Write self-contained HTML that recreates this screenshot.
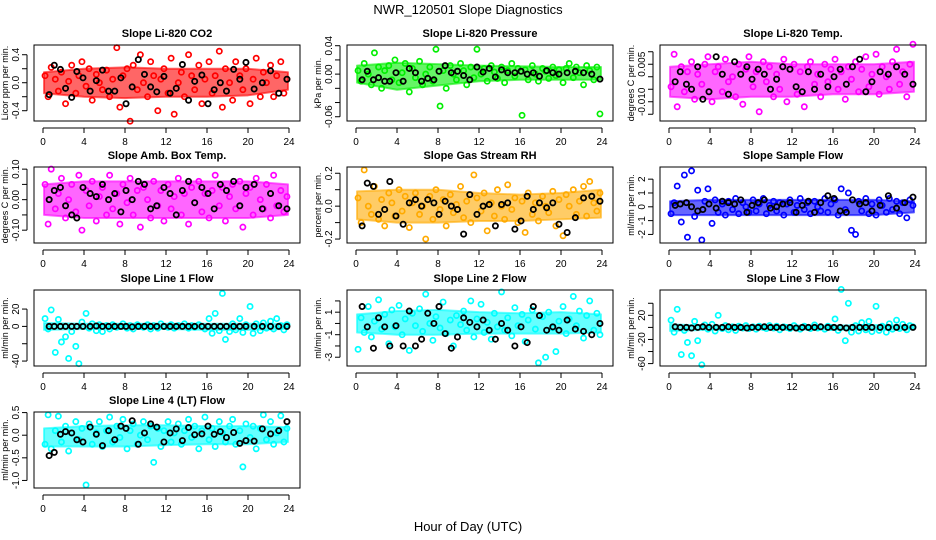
<!DOCTYPE html>
<html><head><meta charset="utf-8">
<style>
html,body{margin:0;padding:0;background:#fff;}
svg{display:block;font-family:"Liberation Sans",sans-serif;}
</style></head>
<body>
<svg id="chart" width="936" height="540" viewBox="0 0 936 540" xmlns="http://www.w3.org/2000/svg">
<text x="468" y="14" text-anchor="middle" font-size="13">NWR_120501  Slope Diagnostics</text>
<text x="468" y="531" text-anchor="middle" font-size="13">Hour of Day (UTC)</text>
</svg>
<script>
const hoursC=[0.2,0.5,0.8,1.2,1.5,1.8,2.2,2.5,2.8,3.2,3.5,3.8,4.2,4.5,4.8,5.2,5.5,5.8,6.2,6.5,6.8,7.2,7.5,7.8,8.2,8.5,8.8,9.2,9.5,9.8,10.2,10.5,10.8,11.2,11.5,11.8,12.2,12.5,12.8,13.2,13.5,13.8,14.2,14.5,14.8,15.2,15.5,15.8,16.2,16.5,16.8,17.2,17.5,17.8,18.2,18.5,18.8,19.2,19.5,19.8,20.2,20.5,20.8,21.2,21.5,21.8,22.2,22.5,22.8,23.2,23.5,23.8];
const hoursB=[0.6,1.1,1.7,2.2,2.8,3.3,3.9,4.6,5.2,5.8,6.4,7.0,7.6,8.1,8.7,9.3,9.9,10.5,11.1,11.8,12.4,13.0,13.6,14.2,14.8,15.5,16.1,16.7,17.3,17.9,18.6,19.2,19.8,20.6,21.4,22.2,23.0,23.8];
const bandHours=[0.1,4,8,12,16,20,23.9];
const xTicks=[0,4,8,12,16,20,24];

const co2C=[0.10,-0.20,0.22,0.05,-0.12,0.15,-0.30,0.02,0.25,-0.15,0.10,0.30,-0.05,0.20,-0.25,0.12,0.00,-0.10,0.18,-0.20,0.05,0.50,-0.35,0.10,0.20,-0.55,0.25,-0.10,0.40,0.00,-0.20,0.30,0.10,-0.40,0.05,0.20,-0.15,0.35,-0.45,0.00,0.15,-0.20,0.40,0.10,-0.10,0.25,-0.30,0.05,0.30,-0.15,0.10,0.45,-0.35,0.20,0.00,-0.25,0.30,0.10,-0.10,0.20,-0.30,0.05,0.35,-0.20,0.15,0.00,0.25,-0.20,0.10,0.30,-0.15,0.05];
const co2B=[-0.17,0.25,0.19,-0.08,-0.21,0.16,0.07,-0.12,0.03,0.18,-0.12,-0.12,0.07,-0.3,-0.06,0.33,0.12,-0.06,-0.13,0.09,-0.15,-0.08,0.26,-0.25,0.02,0.11,-0.3,-0.1,0,-0.12,0.19,0.05,0.29,-0.09,0.0,0.17,-0.15,0.05];
const co2Hi=[0.15,0.2,0.22,0.2,0.2,0.2,0.15];
const co2Lo=[-0.15,-0.2,-0.22,-0.2,-0.2,-0.18,-0.1];
const presC=[0.005,-0.010,0.015,0.000,-0.015,0.030,0.010,-0.020,0.005,0.012,-0.008,0.020,-0.012,0.002,0.015,-0.025,0.008,-0.005,0.018,-0.015,0.000,0.010,-0.010,0.035,-0.045,0.005,-0.020,0.012,0.000,-0.008,0.015,0.005,-0.015,0.010,-0.005,0.035,0.000,0.008,-0.010,0.012,0.003,-0.006,0.010,-0.012,0.005,0.015,-0.003,0.008,-0.058,0.006,-0.008,0.012,0.000,-0.010,0.008,0.004,-0.006,0.010,-0.002,0.006,-0.012,0.008,0.015,-0.005,0.010,0.002,-0.015,0.012,0.005,-0.008,0.010,-0.056];
const presB=[-0.008,0.004,-0.008,-0.005,-0.01,-0.01,0.002,-0.01,0.008,0.002,-0.01,-0.006,-0.008,0.004,0.012,0.002,0.004,-0.002,-0.008,0.01,0.003,0.008,-0.004,0.006,0.002,0.002,0.004,0.0,0.002,-0.003,0.005,0.002,0.0,0.002,0.004,0.002,0.0,-0.007];
const presHi=[0.012,0.016,0.014,0.012,0.011,0.01,0.01];
const presLo=[-0.012,-0.022,-0.016,-0.01,-0.008,-0.008,-0.008];
const tempC=[-0.004,0.009,-0.012,0.004,-0.006,0.002,0.006,-0.009,0.001,-0.003,0.005,0.008,-0.010,0.002,0.004,-0.006,0.007,-0.002,0.000,-0.008,0.005,-0.011,0.003,0.008,-0.004,0.002,-0.014,0.006,-0.002,0.004,-0.008,0.001,-0.005,0.007,-0.010,0.003,0.005,-0.007,0.002,-0.012,0.004,0.006,-0.003,0.001,-0.008,0.005,-0.002,0.003,0.007,-0.005,0.002,-0.009,0.004,-0.001,0.006,-0.006,0.003,0.008,-0.004,0.001,0.009,-0.007,0.004,0.000,-0.005,0.006,0.011,-0.003,0.002,-0.008,0.005,0.013];
const tempB=[-0.002,0.002,-0.003,-0.005,0.004,-0.009,-0.006,0.008,0.001,-0.007,0.006,0.001,0.004,-0.001,0.003,0.001,-0.005,-0.001,0.004,0.003,-0.004,-0.006,0.002,-0.005,0.001,-0.004,0.000,0.003,-0.003,0.004,0.007,-0.006,-0.002,0.002,0.001,0.004,0.001,-0.003];
const tempHi=[0.004,0.005,0.006,0.005,0.005,0.005,0.006];
const tempLo=[-0.008,-0.009,-0.008,-0.008,-0.007,-0.007,-0.006];
const ambC=[0.05,-0.08,0.10,-0.03,0.02,0.07,-0.06,0.00,0.05,-0.04,0.08,-0.10,0.03,-0.02,0.06,-0.07,0.01,0.04,-0.05,0.08,-0.03,0.02,-0.08,0.05,-0.01,0.07,-0.05,0.03,-0.09,0.04,0.00,-0.06,0.06,-0.02,0.03,-0.07,0.05,-0.03,0.01,0.07,-0.05,0.02,-0.08,0.04,-0.01,0.06,-0.04,0.02,-0.06,0.03,0.08,-0.02,0.04,-0.07,0.01,0.05,-0.03,0.06,-0.09,0.02,0.04,-0.05,0.07,0.00,-0.03,0.05,-0.06,0.08,-0.02,0.03,-0.04,0.01];
const ambB=[0.00,0.03,0.04,-0.02,-0.05,-0.06,0.04,0.02,0.01,0.05,0.00,0.02,-0.04,0.03,0.00,0.06,0.05,-0.03,-0.02,0.04,0.02,-0.05,0.03,0.06,-0.01,0.04,0.02,-0.03,0.05,0.03,0.06,-0.02,0.04,0.05,-0.03,0.02,-0.02,-0.03];
const ambHi=[0.05,0.06,0.06,0.06,0.06,0.06,0.05];
const ambLo=[-0.05,-0.06,-0.06,-0.06,-0.06,-0.06,-0.05];
const rhC=[0.05,-0.10,0.22,0.00,-0.05,0.12,-0.08,0.04,-0.12,0.08,0.02,-0.06,0.10,-0.03,0.06,-0.13,0.02,0.08,-0.05,0.00,-0.20,0.06,-0.08,0.10,-0.02,0.04,-0.12,0.07,-0.04,0.01,0.12,-0.07,0.03,-0.10,0.19,0.05,-0.03,0.08,-0.15,0.02,-0.06,0.10,0.00,-0.08,0.13,-0.02,0.05,-0.10,0.03,-0.16,0.08,-0.05,0.02,-0.09,0.06,0.00,-0.04,0.09,-0.12,0.04,-0.18,0.07,0.00,0.10,-0.05,0.03,0.12,-0.06,0.15,0.02,-0.03,0.08];
const rhB=[-0.12,0.14,0.12,-0.05,-0.02,0.15,-0.06,-0.11,0.02,0.04,0.00,0.04,0.02,-0.05,0.03,0.00,-0.02,-0.17,0.07,-0.05,0.00,0.01,-0.12,0.01,0.02,-0.14,-0.09,0.06,-0.02,0.02,-0.01,0.02,-0.11,-0.16,-0.07,0.05,0.06,0.03];
const rhHi=[0.09,0.1,0.1,0.08,0.07,0.08,0.1];
const rhLo=[-0.08,-0.1,-0.1,-0.09,-0.09,-0.08,-0.07];
const sampC=[-0.5,0.3,1.5,-1.1,2.3,-2.2,2.6,-0.7,1.2,-2.4,0.4,1.3,-1.2,0.5,-0.4,0.2,-0.6,0.4,-0.2,0.6,-0.5,0.3,0.0,-0.4,0.5,-0.3,0.2,0.6,-0.5,0.1,0.4,-0.3,0.3,-0.6,0.2,0.5,-0.4,0.1,0.6,-0.2,0.3,-0.5,0.4,0.0,-0.3,0.6,-0.4,0.2,0.5,-0.6,1.3,-0.2,1.0,-1.7,-2.0,0.4,-0.3,0.6,-0.5,0.2,-0.6,0.5,0.1,-0.4,0.6,-0.2,0.4,-0.5,0.3,-0.8,0.5,0.1];
const sampB=[0.1,0.2,0.3,0.0,-0.3,-0.2,0.2,-0.1,0.4,0.3,0.2,0.5,-0.4,0.1,0.3,0.5,-0.1,0.0,0.2,0.3,-0.4,0.1,0.4,-0.4,0.3,0.8,0.6,-0.3,-0.4,0.5,0.2,0.3,-0.3,0.1,0.8,-0.1,0.3,0.7];
const sampHi=[0.4,0.5,0.5,0.5,0.5,0.5,0.4];
const sampLo=[-0.6,-0.6,-0.6,-0.6,-0.6,-0.6,-0.4];
const l1C=[9,-3,19,-30,8,-18,-12,-37,-6,-23,-43,5,15,-2,3,-5,2,-6,1,-3,2,-1,0,3,-2,1,-3,2,0,-1,2,-3,1,-2,3,0,-1,2,-2,1,0,3,-2,1,-1,2,0,-3,9,-8,15,-5,38,-15,-6,3,-4,9,-7,2,23,-8,3,-5,4,-2,6,-3,9,1,-4,2];
const l1B=[0,0,0,0,0,0,0,0,0.5,0,0,0,0,0,-0.5,0,0,0,0,0,0,0,0,0,0,0,0,0,0,0,0,0,0,0,0,0,0,0];
const l1Hi=[4,3,3,3,3,3,3];
const l1Lo=[-4,-3,-3,-3,-4,-4,-3];
const l2C=[-2.3,0.5,-0.8,1.5,-1.2,0.2,2.1,-0.5,0.8,-1.8,1.2,-0.3,1.6,-1.0,0.4,-2.4,0.9,-0.2,1.3,-0.7,2.6,0.0,-1.5,0.6,-0.4,1.9,-0.9,0.3,-2.0,0.7,-0.1,1.1,-0.6,2.0,-1.2,0.4,1.7,-0.8,0.1,-1.4,0.9,-0.3,2.8,-0.6,0.5,-1.1,1.4,-0.2,0.8,-1.6,0.3,1.2,-0.5,-3.5,0.6,-3.0,1.0,-0.4,-2.5,0.2,1.5,-0.9,0.4,2.4,-0.2,1.1,-1.3,0.7,2.0,-0.6,0.9,-1.0];
const l2B=[1.5,-0.3,-2.2,0.5,-0.3,-2.0,-0.2,-2.0,1.1,-2.0,-1.4,0.9,0.0,1.5,-0.9,-2.2,-1.2,0.5,0.1,-0.3,0.3,-0.6,-1.4,0.0,-0.6,-2.0,-0.3,-1.7,1.5,0.7,-0.6,-0.3,-0.6,0.3,-0.5,-0.7,-1.0,0.0];
const l2Hi=[0.8,1.1,1.2,1.0,0.9,1.0,0.8];
const l2Lo=[-0.8,-1.0,-1.0,-0.9,-0.9,-0.9,-0.8];
const l3C=[12,-8,30,-45,-5,-25,-47,10,-22,-62,4,-3,5,-6,20,-2,3,-4,1,-5,2,-1,3,-2,1,-3,2,0,-2,3,-1,2,-4,1,0,-2,3,-1,-3,2,0,-2,4,-1,1,-3,2,0,14,-5,63,-22,40,-8,3,-6,8,-4,10,-7,35,-5,2,-8,6,-3,12,-2,5,-4,3,1];
const l3B=[1,0,0,-1,0,1,0,0,0,1,0,0,-1,0,0,1,0,0,0,0,-1,0,0,0,1,0,0,0,-1,0,0,0,0,0,0,0,0,0];
const l3Hi=[5,3,3,3,3,4,3];
const l3Lo=[-6,-4,-3,-3,-4,-4,-3];
const l4C=[-0.2,0.45,-0.3,0.1,0.42,-0.15,0.2,-0.35,0.05,0.3,-0.1,0.15,-1.1,0.25,-0.2,0.05,0.3,-0.25,0.1,0.4,-0.15,0.2,-0.05,0.35,-0.3,0.1,0.25,-0.2,0.0,0.3,-0.1,0.2,-0.6,0.15,-0.25,0.1,0.3,-0.15,0.05,0.25,-0.2,0.1,0.35,-0.05,0.2,-0.3,0.1,0.4,-0.1,0.15,-0.25,0.3,0.05,-0.15,0.2,0.35,-0.2,0.1,-0.7,0.25,-0.05,0.2,-0.3,0.15,0.45,-0.1,0.3,-0.2,0.05,0.43,-0.15,0.15];
const l4B=[-0.45,-0.38,0.02,0.08,0.05,-0.1,-0.15,0.18,0.02,-0.23,0.1,-0.1,0.2,0.15,0.32,-0.2,0.05,0.25,0.18,-0.15,0.05,0.14,-0.12,0.17,0.01,0.03,0.2,0.02,0.08,-0.05,0.06,-0.18,-0.12,-0.13,0.14,0.03,0.1,0.3];
const l4Hi=[0.15,0.2,0.22,0.22,0.2,0.2,0.18];
const l4Lo=[-0.25,-0.25,-0.25,-0.22,-0.2,-0.2,-0.15];

const panels=[
 {name:'co2',title:'Slope Li-820 CO2',ylab:'Licor ppm per min.',col:0,row:0,color:'#ff0000',c:co2C,b:co2B,hi:co2Hi,lo:co2Lo,ylim:[-0.547,0.539],ticks:[-0.4,-0.2,0,0.2,0.4],labels:{'-0.4':'-0.4','0':'0.0','0.4':'0.4'}},
 {name:'pressure',title:'Slope Li-820 Pressure',ylab:'kPa per min.',col:1,row:0,color:'#00ee00',c:presC,b:presB,hi:presHi,lo:presLo,ylim:[-0.066,0.041],ticks:[-0.06,-0.04,-0.02,0,0.02,0.04],labels:{'-0.06':'-0.06','0':'0.00','0.04':'0.04'}},
 {name:'li820-temp',title:'Slope Li-820 Temp.',ylab:'degrees C per min.',col:2,row:0,color:'#ff00ff',c:tempC,b:tempB,hi:tempHi,lo:tempLo,ylim:[-0.0177,0.0127],ticks:[-0.015,-0.01,-0.005,0,0.005,0.01],labels:{'-0.01':'-0.010','0.005':'0.005'}},
 {name:'amb-box-temp',title:'Slope Amb. Box Temp.',ylab:'degrees C per min.',col:0,row:1,color:'#ff00ff',c:ambC,b:ambB,hi:ambHi,lo:ambLo,ylim:[-0.142,0.107],ticks:[-0.1,-0.05,0,0.05,0.1],labels:{'-0.1':'-0.10','0':'0.00','0.1':'0.10'}},
 {name:'gas-stream-rh',title:'Slope Gas Stream RH',ylab:'percent per min.',col:1,row:1,color:'#ffaa00',c:rhC,b:rhB,hi:rhHi,lo:rhLo,ylim:[-0.224,0.238],ticks:[-0.2,-0.1,0,0.1,0.2],labels:{'-0.2':'-0.2','0':'0.0','0.2':'0.2'}},
 {name:'sample-flow',title:'Slope Sample Flow',ylab:'ml/min per min.',col:2,row:1,color:'#0000ff',c:sampC,b:sampB,hi:sampHi,lo:sampLo,ylim:[-2.62,2.88],ticks:[-2,-1,0,1,2],labels:{'-2':'-2','-1':'-1','0':'0','1':'1','2':'2'}},
 {name:'line1-flow',title:'Slope Line 1 Flow',ylab:'ml/min per min.',col:0,row:2,color:'#00ffff',c:l1C,b:l1B,hi:l1Hi,lo:l1Lo,ylim:[-45.7,42],ticks:[-40,-20,0,20],labels:{'-40':'-40','0':'0','20':'20'}},
 {name:'line2-flow',title:'Slope Line 2 Flow',ylab:'ml/min per min.',col:1,row:2,color:'#00ffff',c:l2C,b:l2B,hi:l2Hi,lo:l2Lo,ylim:[-3.78,2.97],ticks:[-3,-2,-1,0,1,2],labels:{'-3':'-3','-1':'-1','1':'1'}},
 {name:'line3-flow',title:'Slope Line 3 Flow',ylab:'ml/min per min.',col:2,row:2,color:'#00ffff',c:l3C,b:l3B,hi:l3Hi,lo:l3Lo,ylim:[-64,62],ticks:[-60,-40,-20,0,20,40],labels:{'-60':'-60','-20':'-20','20':'20'}},
 {name:'line4-flow',title:'Slope Line 4 (LT) Flow',ylab:'ml/min per min.',col:0,row:3,color:'#00ffff',c:l4C,b:l4B,hi:l4Hi,lo:l4Lo,ylim:[-1.167,0.513],ticks:[-1,-0.5,0,0.5],labels:{'-1':'-1.0','-0.5':'-0.5','0':'0.0','0.5':'0.5'}}
];
const colX=[34,347,660], rowY=[45,167,290,412], W=266, H=76;
const NS='http://www.w3.org/2000/svg';
const svg=document.getElementById('chart');
function mk(tag,attrs,parent){const e=document.createElementNS(NS,tag);for(const k in attrs)e.setAttribute(k,attrs[k]);(parent||svg).appendChild(e);return e;}

panels.forEach(p=>{
  const L=colX[p.col], T=rowY[p.row];
  const g=mk('g',{});
  
  
  const xs=h=>L+9+h*246/24;
  const ys=v=>T+(p.ylim[1]-v)/(p.ylim[1]-p.ylim[0])*H;
  const t=mk('text',{x:L+W/2,y:T-8,'text-anchor':'middle','font-size':11,'font-weight':'bold'},g);
  t.textContent=p.title;
  
  
  let d='';
  bandHours.forEach((h,i)=>{d+=(i?'L':'M')+xs(h)+','+ys(p.hi[i]);});
  for(let i=bandHours.length-1;i>=0;i--){d+='L'+xs(bandHours[i])+','+ys(p.lo[i]);}
  d+='Z';
  const band=mk('path',{d:d,fill:p.color,'fill-opacity':0.6,stroke:p.color,'stroke-opacity':0.6,'stroke-width':2,'stroke-linejoin':'round'},g);
  
  
  const pc=mk('g',{fill:'none',stroke:p.color,'stroke-width':1.7},g);
  
  
  const n=Math.min(p.c.length,hoursC.length);
  for(let i=0;i<n;i++){
    const c=mk('circle',{cx:xs(hoursC[i]),cy:ys(p.c[i]),r:2.6},pc);
    
    
  }
  const pb=mk('g',{fill:'none',stroke:'#000','stroke-width':1.8},g);
  
  
  const m=Math.min(p.b.length,hoursB.length);
  for(let i=0;i<m;i++){
    const c=mk('circle',{cx:xs(hoursB[i]),cy:ys(p.b[i]),r:2.6},pb);
    
    
  }
  const box=mk('rect',{x:L,y:T,width:W,height:H,fill:'none',stroke:'#000','stroke-width':1},g);
  
  
  const xa=mk('g',{'font-size':10},g);
  
  
  mk('line',{x1:xs(0),x2:xs(24),y1:T+H+7,y2:T+H+7,stroke:'#000'},xa);
  xTicks.forEach(v=>{
    mk('line',{x1:xs(v),x2:xs(v),y1:T+H+7,y2:T+H+12,stroke:'#000'},xa);
    const tx=mk('text',{x:xs(v),y:T+H+24,'text-anchor':'middle'},xa);
    tx.textContent=v;
    
    
  });
  const ya=mk('g',{'font-size':10},g);
  
  
  const tk=p.ticks;
  mk('line',{x1:L-7,x2:L-7,y1:ys(tk[0]),y2:ys(tk[tk.length-1]),stroke:'#000'},ya);
  tk.forEach(v=>{
    mk('line',{x1:L-12,x2:L-7,y1:ys(v),y2:ys(v),stroke:'#000'},ya);
    const lab=p.labels[String(v)];
    if(lab!==undefined){
      const tx=mk('text',{x:L-15,y:ys(v),'text-anchor':'middle',transform:'rotate(-90 '+(L-15)+' '+ys(v)+')'},ya);
      tx.textContent=lab;
      
      
    }
  });
  const yt=mk('text',{x:L-26,y:T+H/2,'text-anchor':'middle','font-size':9,transform:'rotate(-90 '+(L-26)+' '+(T+H/2)+')'},g);
  yt.textContent=p.ylab;
  
  
});
</script>
</body></html>
